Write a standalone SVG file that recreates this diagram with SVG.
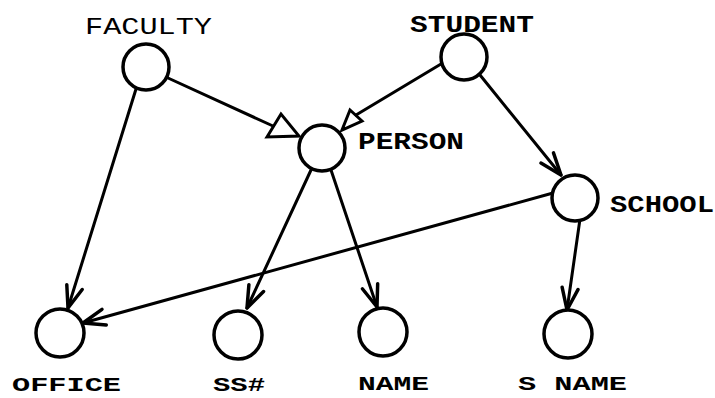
<svg xmlns="http://www.w3.org/2000/svg" width="715" height="398" viewBox="0 0 715 398">
<style>
.n{fill:#fff;stroke:#000;stroke-width:3.5}
.e{fill:none;stroke:#000;stroke-width:3;stroke-linecap:round}
.t{fill:none;stroke:#000;stroke-width:3;stroke-linejoin:miter}
text{font-family:"Liberation Mono","DejaVu Sans Mono",monospace;font-size:23px;fill:#000}
.b{font-weight:bold}
.s{font-size:21px}
</style>
<defs>
<marker id="v" markerUnits="userSpaceOnUse" markerWidth="30" markerHeight="30" viewBox="-22 -12 26 24" refX="0" refY="0" orient="auto">
<path d="M-19,-7 L0,0 L-19,7" fill="none" stroke="#000" stroke-width="3" stroke-linecap="round" stroke-linejoin="round"/>
</marker>
</defs>
<rect width="715" height="398" fill="#fff"/>
<g id="connectors">
<line class="e" x1="136" y1="89" x2="68" y2="308" marker-end="url(#v)"/>
<line class="e" x1="168" y1="78" x2="273" y2="126"/>
<polygon class="t" points="267,137 281,114 299,136"/>
<line class="e" x1="441" y1="64" x2="356" y2="115"/>
<polygon class="t" points="342,130 350,110 362,121"/>
<line class="e" x1="480" y1="75" x2="561" y2="175" marker-end="url(#v)"/>
<line class="e" x1="553" y1="193" x2="83" y2="323" marker-end="url(#v)"/>
<line class="e" x1="580" y1="219" x2="567" y2="310" marker-end="url(#v)"/>
<line class="e" x1="311" y1="170" x2="247" y2="308" marker-end="url(#v)"/>
<line class="e" x1="331" y1="170" x2="377" y2="307" marker-end="url(#v)"/>
</g>
<g id="faculty"><circle class="n" cx="146" cy="67" r="23"/><text x="85" y="34" textLength="127" lengthAdjust="spacingAndGlyphs">FACULTY</text></g>
<g id="student"><circle class="n" cx="464" cy="57" r="23"/><text class="b" x="410" y="32" textLength="124" lengthAdjust="spacingAndGlyphs">STUDENT</text></g>
<g id="person"><circle class="n" cx="322" cy="148" r="23"/><text class="b" x="358" y="149" textLength="106" lengthAdjust="spacingAndGlyphs">PERSON</text></g>
<g id="school"><circle class="n" cx="575" cy="198" r="23"/><text class="b" x="610" y="212" textLength="104" lengthAdjust="spacingAndGlyphs">SCHOOL</text></g>
<g id="office"><circle class="n" cx="60" cy="333" r="24"/><text class="b s" x="12" y="391" textLength="109" lengthAdjust="spacingAndGlyphs">OFFICE</text></g>
<g id="ssn"><circle class="n" cx="238" cy="335" r="24"/><text class="b s" x="213" y="391" textLength="52" lengthAdjust="spacingAndGlyphs">SS#</text></g>
<g id="name"><circle class="n" cx="383" cy="332" r="24"/><text class="b s" x="358" y="390" textLength="71" lengthAdjust="spacingAndGlyphs">NAME</text></g>
<g id="sname"><circle class="n" cx="568" cy="334" r="24"/><text class="b s" x="518" y="390" textLength="109" lengthAdjust="spacingAndGlyphs">S NAME</text></g>
</svg>
